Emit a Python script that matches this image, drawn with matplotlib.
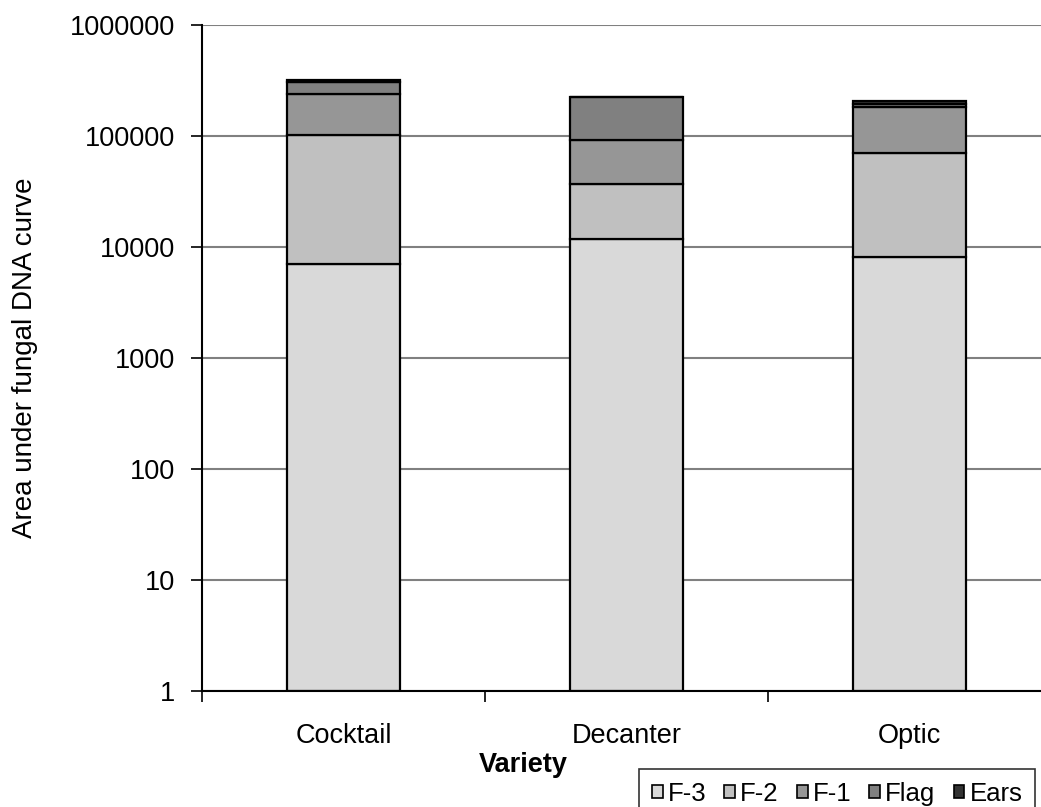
import matplotlib
matplotlib.use("Agg")
import matplotlib.pyplot as plt
import numpy as np
from matplotlib.patches import Patch
from matplotlib.ticker import FixedLocator, NullFormatter

plt.rcParams['font.family'] = ['Liberation Sans', 'DejaVu Sans']

varieties = ["Cocktail", "Decanter", "Optic"]
layers = ["F-3", "F-2", "F-1", "Flag", "Ears"]
# layer values (stacked, log scale)
F3 = [7030, 11800, 8130]
F2 = [95000, 24900, 62200]
F1 = [137000, 54700, 110700]
Flag = [67000, 131600, 13000]
Ears = [14000, 1500, 14000]
colors = ["#d9d9d9", "#c0c0c0", "#969696", "#808080", "#333333"]
yticks = [1, 10, 100, 1000, 10000, 100000, 1000000]
ytick_labels = ["1", "10", "100", "1000", "10000", "100000", "1000000"]

W, H = 1041, 807
fig = plt.figure(figsize=(W / 100, H / 100), dpi=100)
ax = fig.add_axes([202 / W, (H - 691) / H, (1051 - 202) / W, (691 - 25) / H])

x = np.arange(len(varieties))
bottom = np.zeros(len(varieties))
series = [F3, F2, F1, Flag, Ears]
for name, vals, c in zip(layers, series, colors):
    vals = np.array(vals, dtype=float)
    base = np.where(bottom == 0, 1.0, bottom)
    top = bottom + vals
    ax.bar(x, top - base, bottom=base, width=0.4, color=c, edgecolor="black",
           linewidth=1.6, zorder=3)
    bottom = top

ax.set_yscale("log")
ax.set_ylim(1, 1e6)
ax.set_xlim(-0.5, 2.5)
ax.yaxis.set_major_locator(FixedLocator(yticks))
ax.set_yticklabels(ytick_labels, fontsize=19.5)
ax.yaxis.set_minor_locator(FixedLocator([]))
ax.yaxis.set_minor_formatter(NullFormatter())
ax.set_xticks(x)
ax.set_xticklabels(varieties, fontsize=19.5)
ax.set_xticks([-0.5, 0.5, 1.5, 2.5], minor=True)
ax.tick_params(axis="x", which="major", length=0, pad=23)
ax.tick_params(axis="x", which="minor", length=8, width=1.2, direction="out")
ax.tick_params(axis="y", which="major", length=8, width=1.2, direction="out", pad=11)
ax.grid(axis="y", color="#808080", linewidth=1.5, zorder=0)
for s in ["top", "right"]:
    ax.spines[s].set_visible(False)
for s in ["left", "bottom"]:
    ax.spines[s].set_linewidth(1.5)
    ax.spines[s].set_zorder(4)

ax.set_xlabel("Variety", fontsize=19.5, fontweight="bold")
ax.xaxis.set_label_coords((523 - 202) / 849, -0.092)
ax.set_ylabel("Area under fungal DNA curve", fontsize=20)
ax.yaxis.set_label_coords(-0.193, 0.5)

handles = [Patch(facecolor=c, edgecolor="black", linewidth=1.2) for c in colors]
leg = fig.legend(handles, layers, loc="upper left",
                 bbox_to_anchor=(639 / W, 1 - 769 / H), ncol=5, fontsize=18.5,
                 handlelength=0.42, handleheight=0.42, handletextpad=0.2,
                 columnspacing=0.7, frameon=True, fancybox=False,
                 borderpad=0.5, borderaxespad=0)
leg.get_frame().set_edgecolor("black")
leg.get_frame().set_linewidth(1.2)

fig.savefig("out.png", dpi=100)
